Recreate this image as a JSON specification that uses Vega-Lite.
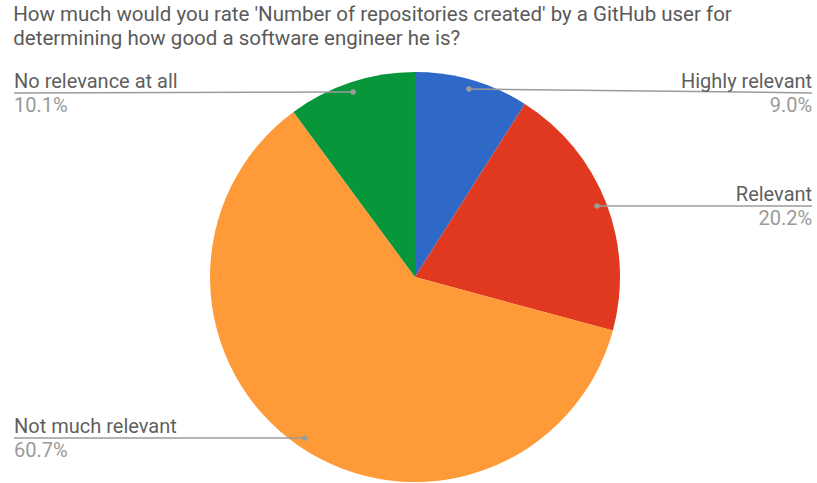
{
  "$schema": "https://vega.github.io/schema/vega-lite/v6.json",
  "autosize": "none",
  "width": 802,
  "height": 410,
  "padding": {"left": 14, "top": 72, "right": 1, "bottom": 1},
  "background": "white",
  "config": {"view": {"stroke": null}, "font": "Roboto"},
  "title": {
    "text": ["How much would you rate 'Number of repositories created' by a GitHub user for", "determining how good a software engineer he is?"],
    "anchor": "start",
    "fontSize": 20.5,
    "fontWeight": "normal",
    "font": "Roboto",
    "color": "#5a5a5a",
    "lineHeight": 24,
    "offset": 22
  },
  "data": {
    "values": [
      {"idx": 1, "category": "Highly relevant", "value": 9.0, "pct": "9.0%", "side": "right", "dotx": 0.263, "doty": 0.917, "labx": 1.937, "laby": 0.898},
      {"idx": 2, "category": "Relevant", "value": 20.2, "pct": "20.2%", "side": "right", "dotx": 0.888, "doty": 0.346, "labx": 1.937, "laby": 0.346},
      {"idx": 3, "category": "Not much relevant", "value": 60.7, "pct": "60.7%", "side": "left", "dotx": -0.537, "doty": -0.785, "labx": -1.956, "laby": -0.785},
      {"idx": 4, "category": "No relevance at all", "value": 10.1, "pct": "10.1%", "side": "left", "dotx": -0.302, "doty": 0.902, "labx": -1.956, "laby": 0.898}
    ]
  },
  "layer": [
    {
      "mark": {"type": "arc", "radius": 205},
      "encoding": {
        "theta": {"field": "value", "type": "quantitative", "stack": true},
        "order": {"field": "idx", "type": "quantitative"},
        "color": {
          "field": "category",
          "type": "nominal",
          "scale": {
            "domain": ["Highly relevant", "Relevant", "Not much relevant", "No relevance at all"],
            "range": ["#2f69c8", "#e0391f", "#fe9a37", "#08963a"]
          },
          "legend": null
        }
      }
    },
    {
      "mark": {"type": "rule", "color": "#9b9b9b", "strokeWidth": 1.5},
      "encoding": {
        "x": {"field": "dotx", "type": "quantitative", "scale": {"domain": [-1.956, 1.956], "nice": false, "zero": false}, "axis": null},
        "x2": {"field": "labx"},
        "y": {"field": "doty", "type": "quantitative", "scale": {"domain": [-1, 1], "nice": false, "zero": false}, "axis": null},
        "y2": {"field": "laby"}
      }
    },
    {
      "mark": {"type": "point", "filled": true, "color": "#9b9b9b", "size": 30, "opacity": 1},
      "encoding": {
        "x": {"field": "dotx", "type": "quantitative"},
        "y": {"field": "doty", "type": "quantitative"}
      }
    },
    {
      "transform": [{"filter": "datum.side == 'right'"}],
      "mark": {"type": "text", "align": "right", "baseline": "alphabetic", "dy": -5, "fontSize": 20, "color": "#5f5f5f"},
      "encoding": {
        "x": {"field": "labx", "type": "quantitative"},
        "y": {"field": "laby", "type": "quantitative"},
        "text": {"field": "category"}
      }
    },
    {
      "transform": [{"filter": "datum.side == 'right'"}],
      "mark": {"type": "text", "align": "right", "baseline": "alphabetic", "dy": 19, "fontSize": 20, "color": "#9a9a9a"},
      "encoding": {
        "x": {"field": "labx", "type": "quantitative"},
        "y": {"field": "laby", "type": "quantitative"},
        "text": {"field": "pct"}
      }
    },
    {
      "transform": [{"filter": "datum.side == 'left'"}],
      "mark": {"type": "text", "align": "left", "baseline": "alphabetic", "dy": -5, "fontSize": 20, "color": "#5f5f5f"},
      "encoding": {
        "x": {"field": "labx", "type": "quantitative"},
        "y": {"field": "laby", "type": "quantitative"},
        "text": {"field": "category"}
      }
    },
    {
      "transform": [{"filter": "datum.side == 'left'"}],
      "mark": {"type": "text", "align": "left", "baseline": "alphabetic", "dy": 19, "fontSize": 20, "color": "#9a9a9a"},
      "encoding": {
        "x": {"field": "labx", "type": "quantitative"},
        "y": {"field": "laby", "type": "quantitative"},
        "text": {"field": "pct"}
      }
    }
  ]
}
